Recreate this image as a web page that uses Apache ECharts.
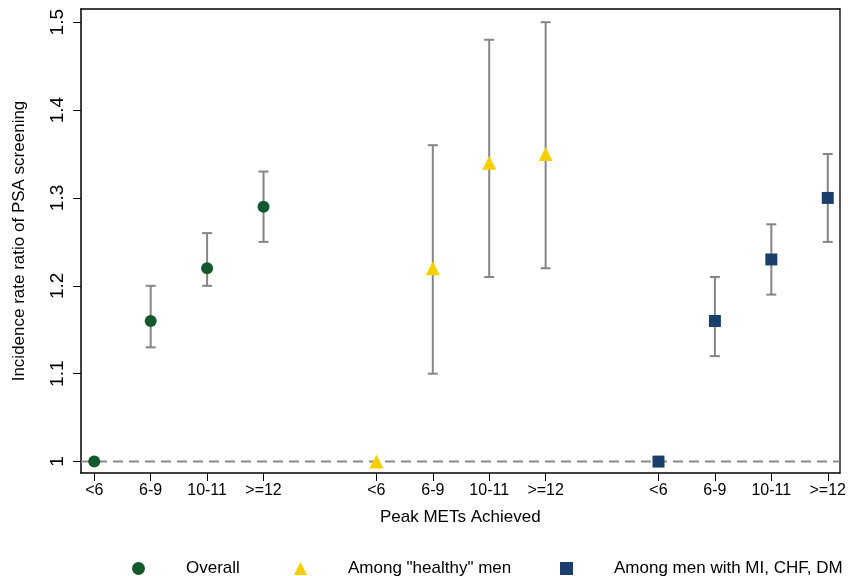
<!DOCTYPE html>
<html>
<head>
<meta charset="utf-8">
<script src="https://cdn.jsdelivr.net/npm/echarts@6/dist/echarts.min.js"></script>
<style>html,body{margin:0;padding:0;background:#fff}#c{width:849px;height:576px}</style>
</head>
<body>
<div id="c"></div>
<script>
// x positions (category slots) and tick labels
var tickPositions = [0, 1, 2, 3, 5, 6, 7, 8, 10, 11, 12, 13];
var tickLabels = ['<6', '6-9', '10-11', '>=12', '<6', '6-9', '10-11', '>=12', '<6', '6-9', '10-11', '>=12'];
var yTicks = [1, 1.1, 1.2, 1.3, 1.4, 1.5];

// Overall
var overallX = [0, 1, 2, 3];
var overallEst = [1.00, 1.16, 1.22, 1.29];
var overallLo = [null, 1.13, 1.20, 1.25];
var overallHi = [null, 1.20, 1.26, 1.33];

// Among "healthy" men
var healthyX = [5, 6, 7, 8];
var healthyEst = [1.00, 1.22, 1.34, 1.35];
var healthyLo = [null, 1.10, 1.21, 1.22];
var healthyHi = [null, 1.36, 1.48, 1.50];

// Among men with MI, CHF, DM
var miX = [10, 11, 12, 13];
var miEst = [1.00, 1.16, 1.23, 1.30];
var miLo = [null, 1.12, 1.19, 1.25];
var miHi = [null, 1.21, 1.27, 1.35];

var refValue = 1;

var FONT = '"Liberation Sans", Arial, sans-serif';

// pick a narrow face for the rotated y tick labels if one is installed
var yLabFont = FONT, yLabSize = 19;
(function () {
  var ctx = document.createElement('canvas').getContext('2d');
  ctx.font = '22px "Liberation Sans"';
  var wReg = ctx.measureText('1.5 1.4 1.3').width;
  ctx.font = '22px "Liberation Sans Narrow", "Liberation Sans"';
  var wNar = ctx.measureText('1.5 1.4 1.3').width;
  if (wNar < wReg * 0.9) { yLabFont = '"Liberation Sans Narrow", "Liberation Sans", sans-serif'; yLabSize = 22; }
})();

function pts(xs, ys) { return xs.map(function (x, i) { return [x, ys[i]]; }); }
function ci(xs, lo, hi) {
  var out = [];
  xs.forEach(function (x, i) { if (lo[i] != null) out.push([x, lo[i], hi[i]]); });
  return out;
}
function errSeries(data) {
  return {
    type: 'custom',
    silent: true,
    z: 2,
    renderItem: function (params, api) {
      var x = api.value(0);
      var a = api.coord([x, api.value(1)]);
      var b = api.coord([x, api.value(2)]);
      var w = 5;
      var st = { stroke: '#858585', lineWidth: 2 };
      return {
        type: 'group',
        children: [
          { type: 'line', shape: { x1: a[0], y1: a[1], x2: b[0], y2: b[1] }, style: st },
          { type: 'line', shape: { x1: a[0] - w, y1: a[1], x2: a[0] + w, y2: a[1] }, style: st },
          { type: 'line', shape: { x1: b[0] - w, y1: b[1], x2: b[0] + w, y2: b[1] }, style: st }
        ]
      };
    },
    encode: { x: 0, y: [1, 2] },
    data: data
  };
}

var chart = echarts.init(document.getElementById('c'));
var legendBase = {
  top: 555,
  itemWidth: 13,
  itemHeight: 13,
  textStyle: { fontFamily: FONT, fontSize: 17, color: '#000', padding: [0, 0, 0, 36] },
  selectedMode: false
};
chart.setOption({
  animation: false,
  backgroundColor: '#fff',
  grid: { left: 81, right: 7, top: 9, bottom: 103 },
  legend: [
    Object.assign({}, legendBase, { left: 127, data: [{ name: 'Overall', icon: 'circle' }] }),
    Object.assign({}, legendBase, { left: 289, data: [{ name: 'Among "healthy" men', icon: 'triangle' }] }),
    Object.assign({}, legendBase, { left: 555, data: [{ name: 'Among men with MI, CHF, DM', icon: 'rect' }] })
  ],
  xAxis: [{
    type: 'value',
    min: -0.235,
    max: 13.21,
    name: 'Peak METs Achieved',
    nameLocation: 'middle',
    nameGap: 36,
    nameTextStyle: { fontFamily: FONT, fontSize: 17, color: '#000' },
    axisLine: { show: true, onZero: false, lineStyle: { color: '#000', width: 1.5 } },
    axisTick: { show: true, length: 8, customValues: tickPositions, lineStyle: { color: '#000', width: 1 } },
    axisLabel: {
      customValues: tickPositions,
      fontFamily: FONT, fontSize: 16, color: '#000', margin: 10,
      formatter: function (v) {
        var i = tickPositions.indexOf(Math.round(v));
        return i >= 0 ? tickLabels[i] : '';
      }
    },
    splitLine: { show: false }
  }, {
    type: 'value', position: 'top', min: -0.235, max: 13.21,
    axisLine: { show: true, onZero: false, lineStyle: { color: '#000', width: 1.5 } },
    axisTick: { show: false }, axisLabel: { show: false }, splitLine: { show: false }
  }],
  yAxis: [{
    type: 'value',
    min: 0.987,
    max: 1.515,
    name: 'Incidence rate ratio of PSA screening',
    nameLocation: 'middle',
    nameGap: 53,
    nameTextStyle: { fontFamily: FONT, fontSize: 17, color: '#000' },
    axisLine: { show: true, onZero: false, lineStyle: { color: '#000', width: 1.5 } },
    axisTick: { show: true, length: 8, customValues: yTicks, lineStyle: { color: '#000', width: 1 } },
    axisLabel: {
      customValues: yTicks,
      rotate: 90,
      fontFamily: yLabFont, fontSize: yLabSize, color: '#000', margin: 14,
      formatter: function (v) { return String(Math.round(v * 10) / 10); }
    },
    splitLine: { show: false }
  }, {
    type: 'value', position: 'right', min: 0.987, max: 1.515,
    axisLine: { show: true, onZero: false, lineStyle: { color: '#555', width: 2 } },
    axisTick: { show: false }, axisLabel: { show: false }, splitLine: { show: false }
  }],
  series: [
    {
      type: 'line', silent: true, data: [[-0.235, refValue], [13.21, refValue]],
      symbol: 'none', z: 1,
      lineStyle: { color: '#8a8a8a', width: 2, type: [10, 6] }
    },
    errSeries(ci(overallX, overallLo, overallHi)),
    errSeries(ci(healthyX, healthyLo, healthyHi)),
    errSeries(ci(miX, miLo, miHi)),
    {
      name: 'Overall', type: 'scatter', z: 3, symbol: 'circle', symbolSize: 12,
      itemStyle: { color: '#14582d', opacity: 1 },
      data: pts(overallX, overallEst)
    },
    {
      name: 'Among "healthy" men', type: 'scatter', z: 3, symbol: 'triangle', symbolSize: 14,
      itemStyle: { color: '#f7cf00', opacity: 1 },
      data: pts(healthyX, healthyEst)
    },
    {
      name: 'Among men with MI, CHF, DM', type: 'scatter', z: 3, symbol: 'rect', symbolSize: 12,
      itemStyle: { color: '#1b3f6b', opacity: 1 },
      data: pts(miX, miEst)
    }
  ]
});
</script>
</body>
</html>
